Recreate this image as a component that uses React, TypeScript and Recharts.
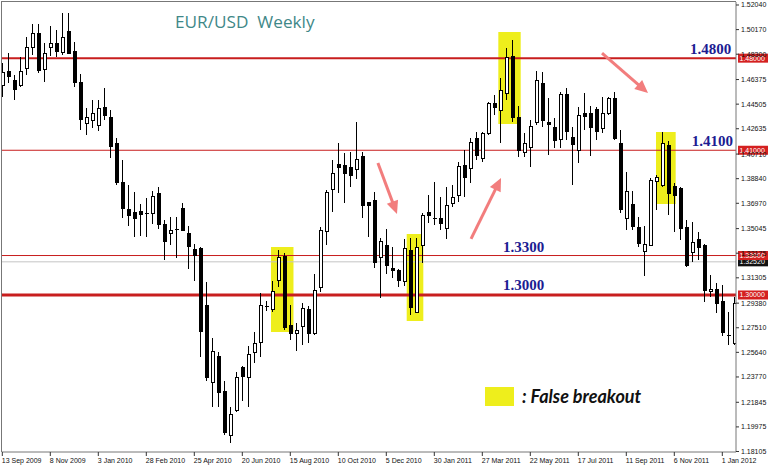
import React from "react";
import {
  ComposedChart,
  Bar,
  XAxis,
  YAxis,
  ReferenceLine,
  ReferenceArea,
  ReferenceDot,
} from "recharts";

// weekly EUR/USD candles, 13 Sep 2009 .. 15 Jan 2012
const opens = [
  1.4595, 1.4702, 1.4633, 1.4595, 1.4725, 1.4884, 1.4991, 1.4717, 1.4884, 1.4915,
  1.4846, 1.5006, 1.4854, 1.4618, 1.4306, 1.4329, 1.4291, 1.4428, 1.4352, 1.4154,
  1.3857, 1.3652, 1.3629, 1.3636, 1.3621, 1.3621, 1.3773, 1.3537, 1.3469, 1.3499,
  1.3659, 1.3469, 1.3347, 1.3355, 1.2921, 1.2335, 1.2533, 1.2267, 1.1932, 1.2122,
  1.2449, 1.2373, 1.2563, 1.264, 1.2916, 1.2891, 1.3111, 1.3294, 1.2769, 1.2708,
  1.2761, 1.2891, 1.2708, 1.3058, 1.3484, 1.3804, 1.3994, 1.3986, 1.3971, 1.3956,
  1.4055, 1.3705, 1.372, 1.3286, 1.3378, 1.3203, 1.3187, 1.3104, 1.3339, 1.2868,
  1.3378, 1.3629, 1.3583, 1.3583, 1.3507, 1.3697, 1.3758, 1.3986, 1.3963, 1.4192,
  1.404, 1.423, 1.4458, 1.4405, 1.4534, 1.4816, 1.4352, 1.4085, 1.4123, 1.4314,
  1.461, 1.4314, 1.4276, 1.4184, 1.4527, 1.42, 1.41, 1.4382, 1.4382, 1.4413,
  1.4268, 1.4382, 1.4496, 1.4154, 1.3583, 1.369, 1.3515, 1.3332, 1.3378, 1.3865,
  1.3834, 1.4139, 1.3827, 1.3811, 1.3515, 1.3324, 1.3423, 1.3378, 1.3028, 1.3043,
  1.2951, 1.2693, 1.2632,
];
const highs = [
  1.4763, 1.4839, 1.4671, 1.4808, 1.496, 1.5059, 1.5059, 1.4915, 1.5044, 1.5014,
  1.5143, 1.5143, 1.4922, 1.4679, 1.442, 1.4481, 1.4481, 1.4572, 1.4405, 1.4192,
  1.4024, 1.3834, 1.3781, 1.369, 1.3735, 1.3789, 1.3819, 1.3568, 1.3591, 1.3591,
  1.3697, 1.3522, 1.3385, 1.3362, 1.3096, 1.267, 1.2563, 1.235, 1.2152, 1.2411,
  1.2464, 1.2609, 1.2716, 1.3012, 1.2951, 1.3104, 1.3339, 1.3317, 1.2921, 1.2784,
  1.2936, 1.2913, 1.3157, 1.3515, 1.3796, 1.4024, 1.4154, 1.4078, 1.4085, 1.4314,
  1.4085, 1.371, 1.3781, 1.3431, 1.3499, 1.3362, 1.3195, 1.3423, 1.3431, 1.3431,
  1.3621, 1.3758, 1.3857, 1.3743, 1.3819, 1.3834, 1.4009, 1.41, 1.4192, 1.4237,
  1.4237, 1.4466, 1.4519, 1.4648, 1.4877, 1.4938, 1.4435, 1.423, 1.4329, 1.4702,
  1.4694, 1.4496, 1.4344, 1.4542, 1.4572, 1.4276, 1.4428, 1.4534, 1.4435, 1.4428,
  1.4504, 1.4504, 1.4542, 1.4253, 1.3933, 1.3789, 1.3591, 1.3522, 1.3887, 1.391,
  1.4237, 1.4169, 1.3849, 1.3819, 1.3568, 1.3553, 1.3477, 1.3385, 1.3149, 1.3088,
  1.3073, 1.2868, 1.2982,
];
const lows = [
  1.4504, 1.461, 1.4481, 1.458, 1.4671, 1.4823, 1.4686, 1.4618, 1.4816, 1.4808,
  1.4823, 1.4831, 1.458, 1.4253, 1.4215, 1.4268, 1.4245, 1.4329, 1.404, 1.3834,
  1.3583, 1.3522, 1.3438, 1.3446, 1.3438, 1.3537, 1.3499, 1.3263, 1.3378, 1.3279,
  1.3484, 1.3195, 1.3104, 1.2525, 1.235, 1.2145, 1.2145, 1.1939, 1.1878, 1.2107,
  1.2198, 1.2145, 1.248, 1.2525, 1.2875, 1.2868, 1.3058, 1.2731, 1.2655, 1.2578,
  1.2617, 1.2632, 1.2693, 1.302, 1.3378, 1.3629, 1.3773, 1.3697, 1.3819, 1.388,
  1.3583, 1.3438, 1.3203, 1.2974, 1.3157, 1.3126, 1.3058, 1.3066, 1.2845, 1.286,
  1.3241, 1.3545, 1.353, 1.3492, 1.3423, 1.3667, 1.3705, 1.3743, 1.3849, 1.4024,
  1.4009, 1.4215, 1.4367, 1.4154, 1.4481, 1.4314, 1.4047, 1.4047, 1.3971, 1.4291,
  1.4276, 1.4062, 1.4116, 1.4116, 1.4177, 1.3834, 1.4002, 1.4253, 1.4055, 1.4177,
  1.423, 1.4367, 1.4177, 1.3621, 1.3492, 1.3492, 1.3362, 1.3142, 1.337, 1.3644,
  1.3819, 1.3606, 1.3477, 1.3416, 1.321, 1.3248, 1.3263, 1.2944, 1.2982, 1.286,
  1.2685, 1.2617, 1.2617,
];
const closes = [
  1.4694, 1.4664, 1.4565, 1.4702, 1.4884, 1.4991, 1.4709, 1.4839, 1.4915, 1.4854,
  1.496, 1.4839, 1.4618, 1.4336, 1.4352, 1.4382, 1.442, 1.4367, 1.4131, 1.3857,
  1.3659, 1.3606, 1.3583, 1.3613, 1.3618, 1.375, 1.3537, 1.3408, 1.3492, 1.3502,
  1.3492, 1.337, 1.3301, 1.2723, 1.2373, 1.2571, 1.2259, 1.1955, 1.2092, 1.2373,
  1.2381, 1.2548, 1.2632, 1.2921, 1.2913, 1.3028, 1.3286, 1.2754, 1.2708, 1.2731,
  1.2898, 1.2708, 1.3035, 1.3492, 1.3781, 1.3925, 1.3971, 1.3925, 1.391, 1.4032,
  1.3682, 1.3682, 1.3248, 1.3408, 1.3225, 1.3187, 1.3111, 1.3355, 1.2906, 1.3362,
  1.3606, 1.3606, 1.3586, 1.3545, 1.3682, 1.3743, 1.3979, 1.3895, 1.4161, 1.4062,
  1.423, 1.4458, 1.4428, 1.4557, 1.4808, 1.4352, 1.41, 1.4154, 1.4283, 1.4633,
  1.4329, 1.4298, 1.4177, 1.4527, 1.4245, 1.4146, 1.4367, 1.4359, 1.4276, 1.4245,
  1.4382, 1.4496, 1.4192, 1.3652, 1.3789, 1.3522, 1.3393, 1.3385, 1.3872, 1.3895,
  1.4154, 1.3773, 1.3758, 1.3507, 1.3225, 1.34, 1.3362, 1.3035, 1.3043, 1.2936,
  1.2716, 1.269, 1.2936,
];

const dateLabels = [
  "13 Sep 2009", "8 Nov 2009", "3 Jan 2010", "28 Feb 2010", "25 Apr 2010",
  "20 Jun 2010", "15 Aug 2010", "10 Oct 2010", "5 Dec 2010", "30 Jan 2011",
  "27 Mar 2011", "22 May 2011", "17 Jul 2011", "11 Sep 2011", "6 Nov 2011",
  "1 Jan 2012",
];
const dateTickIdx = [0, 8, 16, 24, 32, 40, 48, 56, 64, 72, 80, 88, 96, 104, 112, 120];

const priceTicks = [
  1.5204, 1.5017, 1.483, 1.46375, 1.44505, 1.42635, 1.4071, 1.3884, 1.3697,
  1.35045, 1.33175, 1.31305, 1.2938, 1.2751, 1.2564, 1.2377, 1.21845, 1.19975,
  1.18105,
];

const levels = [
  { price: 1.48, text: "1.4800", at: 114.6, w: 2 },
  { price: 1.41, text: "1.4100", at: 114.9, w: 1 },
  { price: 1.33, text: "1.3300", at: 83.45, w: 1 },
  { price: 1.3, text: "1.3000", at: 83.45, w: 3 },
];
const lastPrice = 1.3252;

const breakoutBoxes = [
  { from: 44.78, to: 48.53, top: 1.3365, bottom: 1.2719 },
  { from: 67.4, to: 70.17, top: 1.3464, bottom: 1.2802 },
  { from: 82.67, to: 86.4, top: 1.4999, bottom: 1.43 },
  { from: 108.95, to: 112.23, top: 1.4239, bottom: 1.3692 },
];

const arrows = [
  { x1: 62.6, y1: 1.4003, x2: 65.78, y2: 1.3616 },
  { x1: 78.12, y1: 1.3426, x2: 83.12, y2: 1.3889 },
  { x1: 99.95, y1: 1.4839, x2: 107.62, y2: 1.4535 },
];

const data = opens.map((o, i) => ({ i, o, h: highs[i], l: lows[i], c: closes[i] }));

const FONT = "'Liberation Sans', Arial, sans-serif";

const Candle = (props: any) => {
  const { x, y, width, height, payload } = props;
  if (x == null || !payload) return null;
  const { o, h, l, c } = payload;
  const cx = Math.round(x + width / 2) + 0.5;
  const top = Math.min(y, y + height);
  const span = Math.abs(height);
  const k = h === l ? 0 : span / (h - l);
  const yo = top + (h - o) * k;
  const yc = top + (h - c) * k;
  const bTop = Math.round(Math.min(yo, yc)) + 0.5;
  const bH = Math.round(Math.abs(yo - yc));
  const up = c >= o;
  return (
    <g shapeRendering="crispEdges">
      <line x1={cx} x2={cx} y1={Math.round(top)} y2={Math.round(top + span)} stroke="#000" />
      {bH < 1 ? (
        <line x1={cx - 2} x2={cx + 2} y1={bTop} y2={bTop} stroke="#000" />
      ) : (
        <rect x={cx - 1} y={bTop} width={3} height={bH} fill={up ? "#fff" : "#000"} stroke="#000" />
      )}
    </g>
  );
};

const XTick = (props: any) => {
  const { x, y, payload } = props;
  const k = dateTickIdx.indexOf(payload.value);
  return (
    <text x={x - 0.5} y={y + 5} fontSize={7} fontFamily={FONT} fill="#111" textAnchor="start">
      {dateLabels[k]}
    </text>
  );
};

const YTick = (props: any) => {
  const { x, y, payload } = props;
  return (
    <text x={x} y={y + 2.5} fontSize={7} fontFamily={FONT} fill="#111" textAnchor="start">
      {payload.value.toFixed(5)}
    </text>
  );
};

const axisTag = (text: string, bg: string) => (p: any) => {
  const vb = p.viewBox;
  if (!vb) return null;
  const x = vb.x + vb.width + 2;
  return (
    <g>
      <rect x={x} y={vb.y - 4.5} width={30} height={9} fill={bg} />
      <text x={x + 1.5} y={vb.y + 2.5} fontSize={7} fontFamily={FONT} fill="#fff">
        {text}
      </text>
    </g>
  );
};

const arrowShape = (p: any) => {
  const { x1, y1, x2, y2 } = p;
  if (x1 == null) return null;
  const dx = x2 - x1, dy = y2 - y1;
  const len = Math.hypot(dx, dy);
  const ux = dx / len, uy = dy / len;
  const hl = 13, hw = 6;
  const bx = x2 - ux * hl, by = y2 - uy * hl;
  const pts = `${x2},${y2} ${bx - uy * hw},${by + ux * hw} ${bx + uy * hw},${by - ux * hw}`;
  return (
    <g>
      <line x1={x1} y1={y1} x2={bx + ux * 2} y2={by + uy * 2} stroke="#f27d7d" strokeWidth={3} />
      <polygon points={pts} fill="#f27d7d" />
    </g>
  );
};

const levelText = (text: string, dy: number) => (p: any) => (
  <text
    x={p.cx}
    y={p.cy + dy}
    fontSize={15}
    fontWeight="bold"
    fontFamily="'Liberation Serif', 'Times New Roman', serif"
    fill="#1c1c92"
  >
    {text}
  </text>
);

export default function App() {
  return (
    <div style={{ position: "fixed", left: 0, top: 0, width: 768, height: 467, background: "#fff" }}>
      <ComposedChart
        width={768}
        height={467}
        data={data}
        margin={{ top: 2, right: 0, bottom: 0, left: 2 }}
      >
        <XAxis
          type="number"
          dataKey="i"
          domain={[-0.05, 122.283]}
          allowDataOverflow
          ticks={dateTickIdx}
          interval={0}
          height={15}
          tickSize={4}
          tick={<XTick />}
          axisLine={{ stroke: "#777" }}
          tickLine={{ stroke: "#333" }}
        />
        <YAxis
          orientation="right"
          type="number"
          domain={[1.18067, 1.52268]}
          allowDataOverflow
          ticks={priceTicks}
          interval={0}
          width={32}
          tickSize={3}
          tickMargin={2}
          tick={<YTick />}
          axisLine={{ stroke: "#777" }}
          tickLine={{ stroke: "#333" }}
        />
        {breakoutBoxes.map((b, k) => (
          <ReferenceArea
            key={"box" + k}
            x1={b.from}
            x2={b.to}
            y1={b.bottom}
            y2={b.top}
            fill="#eeee1c"
            fillOpacity={1}
            stroke="none"
          />
        ))}
        <ReferenceLine
          y={lastPrice}
          stroke="#c4c4c4"
          strokeWidth={1}
          zIndex={250}
          label={axisTag("1.32520", "#111")}
        />
        {levels.map((lv) => (
          <ReferenceLine
            key={lv.text}
            y={lv.price}
            stroke="#c81e1e"
            strokeWidth={lv.w}
            zIndex={250}
            label={axisTag(lv.price.toFixed(5), "#d42020")}
          />
        ))}
        <Bar
          dataKey={(d: any) => [d.l, d.h]}
          barSize={4}
          shape={<Candle />}
          isAnimationActive={false}
        />
        {arrows.map((a, k) => (
          <ReferenceLine
            key={"arr" + k}
            segment={[{ x: a.x1, y: a.y1 }, { x: a.x2, y: a.y2 }]}
            shape={arrowShape}
            ifOverflow="visible"
          />
        ))}
        {levels.map((lv) => (
          <ReferenceDot
            key={"t" + lv.text}
            x={lv.at}
            y={lv.price}
            r={0}
            shape={levelText(lv.text, lv.w > 2 ? -5 : -4)}
          />
        ))}
      </ComposedChart>
      <svg
        width={768}
        height={467}
        style={{ position: "absolute", left: 0, top: 0, pointerEvents: "none" }}
      >
        <line x1={1} x2={736} y1={1.5} y2={1.5} stroke="#777" />
        <line x1={1.5} x2={1.5} y1={1} y2={452} stroke="#777" />
        <text x={175} y={28} fontSize={17.2} fontFamily="'Open Sans', sans-serif" fill="#3f8888">
          EUR/USD{"\u00a0\u00a0"}Weekly
        </text>
        <rect x={485} y={387} width={29} height={19} fill="#eeee1c" />
        <text
          x={522}
          y={403}
          fontSize={18}
          fontStyle="italic"
          fontWeight="bold"
          fontFamily="Lato, sans-serif"
          fill="#111"
        >
          : False breakout
        </text>
      </svg>
    </div>
  );
}
